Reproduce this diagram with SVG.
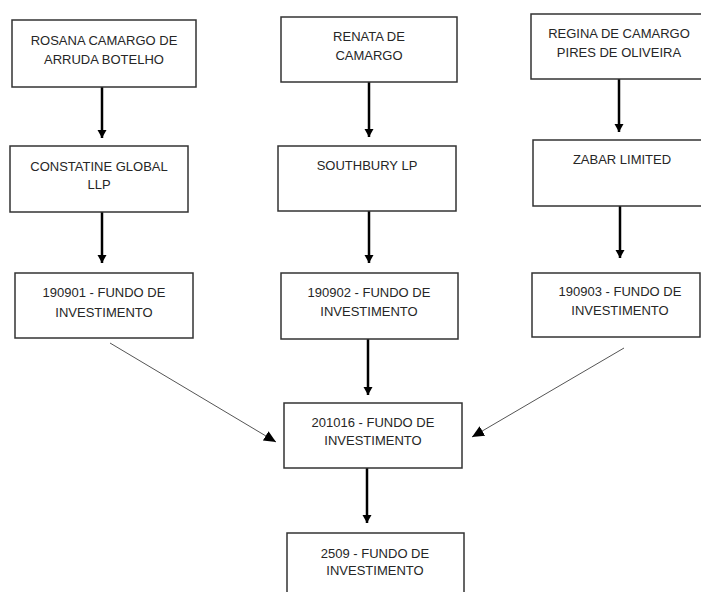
<svg xmlns="http://www.w3.org/2000/svg" width="701" height="592" viewBox="0 0 701 592">
<style>
.box{fill:#fff;stroke:#333;stroke-width:1.5}
.t{font-family:"Liberation Sans",Arial,sans-serif;font-size:13px;fill:#262626;text-anchor:middle}
.thick{stroke:#000;stroke-width:2.5;fill:none}
.thin{stroke:#555;stroke-width:1;fill:none}
</style>
<defs>
<marker id="ah" markerUnits="userSpaceOnUse" markerWidth="12" markerHeight="12" viewBox="0 0 12 12" refX="10" refY="6" orient="auto">
<path d="M2,1.5 L10,6 L2,10.5 z" fill="#000"/>
</marker>
<marker id="ah2" markerUnits="userSpaceOnUse" markerWidth="14" markerHeight="14" viewBox="0 0 14 14" refX="12" refY="7" orient="auto">
<path d="M0,1.5 L12,7 L0,12.5 z" fill="#000"/>
</marker>
</defs>
<rect width="701" height="592" fill="#fff"/>
<g id="connectors">
<line class="thick" x1="102" y1="87" x2="102" y2="138" marker-end="url(#ah)"/>
<line class="thick" x1="369" y1="82" x2="369" y2="137" marker-end="url(#ah)"/>
<line class="thick" x1="619" y1="79" x2="619" y2="132" marker-end="url(#ah)"/>
<line class="thick" x1="102" y1="212" x2="102" y2="263" marker-end="url(#ah)"/>
<line class="thick" x1="369" y1="211" x2="369" y2="263" marker-end="url(#ah)"/>
<line class="thick" x1="620" y1="206" x2="620" y2="258" marker-end="url(#ah)"/>
<line class="thick" x1="368" y1="339" x2="368" y2="395" marker-end="url(#ah)"/>
<line class="thick" x1="367" y1="468" x2="367" y2="523" marker-end="url(#ah)"/>
<line class="thin" x1="110" y1="343" x2="276" y2="442" marker-end="url(#ah2)"/>
<line class="thin" x1="624" y1="348" x2="472" y2="437" marker-end="url(#ah2)"/>
</g>
<g id="rosana">
<rect class="box" x="12" y="20" width="184" height="67"/>
<text class="t" x="104" y="45">ROSANA CAMARGO DE</text>
<text class="t" x="104" y="64">ARRUDA BOTELHO</text>
</g>
<g id="renata">
<rect class="box" x="281" y="17" width="176" height="65"/>
<text class="t" x="369" y="41">RENATA DE</text>
<text class="t" x="369" y="60">CAMARGO</text>
</g>
<g id="regina">
<rect class="box" x="531" y="14" width="172" height="65"/>
<text class="t" x="619" y="38">REGINA DE CAMARGO</text>
<text class="t" x="619" y="57">PIRES DE OLIVEIRA</text>
</g>
<g id="constatine">
<rect class="box" x="10" y="146" width="178" height="66"/>
<text class="t" x="99" y="171">CONSTATINE GLOBAL</text>
<text class="t" x="99" y="189">LLP</text>
</g>
<g id="southbury">
<rect class="box" x="278" y="146" width="178" height="65"/>
<text class="t" x="367" y="170">SOUTHBURY LP</text>
</g>
<g id="zabar">
<rect class="box" x="533" y="140" width="170" height="66"/>
<text class="t" x="622" y="164">ZABAR LIMITED</text>
</g>
<g id="f190901">
<rect class="box" x="15" y="273" width="178" height="65"/>
<text class="t" x="104" y="297">190901 - FUNDO DE</text>
<text class="t" x="104" y="317">INVESTIMENTO</text>
</g>
<g id="f190902">
<rect class="box" x="281" y="273" width="177" height="66"/>
<text class="t" x="369" y="297">190902 - FUNDO DE</text>
<text class="t" x="369" y="316">INVESTIMENTO</text>
</g>
<g id="f190903">
<rect class="box" x="532" y="273" width="168" height="64"/>
<text class="t" x="620" y="296">190903 - FUNDO DE</text>
<text class="t" x="620" y="315">INVESTIMENTO</text>
</g>
<g id="f201016">
<rect class="box" x="284" y="403" width="178" height="65"/>
<text class="t" x="373" y="427">201016 - FUNDO DE</text>
<text class="t" x="373" y="445">INVESTIMENTO</text>
</g>
<g id="f2509">
<rect class="box" x="287" y="533" width="177" height="70"/>
<text class="t" x="375" y="558">2509 - FUNDO DE</text>
<text class="t" x="375" y="575">INVESTIMENTO</text>
</g>
</svg>
